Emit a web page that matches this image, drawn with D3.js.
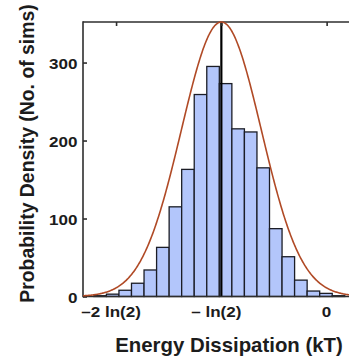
<!DOCTYPE html>
<html>
<head>
<meta charset="utf-8">
<script src="https://cdn.jsdelivr.net/npm/d3@7"></script>
<style>
  html, body { margin: 0; padding: 0; background: #ffffff; }
  svg { display: block; }
  text { font-family: "Liberation Sans", Arial, Helvetica, sans-serif; font-weight: bold; fill: #1c1c1c; }
</style>
</head>
<body>
<div id="chart"></div>
<script>
// Histogram of energy dissipated per simulation (units of kT)
const binStart = -1.5325;          // left edge of the first bin (kT)
const binWidth = 0.0826;           // bin width (kT)
const binCounts = [1, 3, 8, 17, 34, 63, 115, 163, 259, 295, 273, 215, 211, 165, 87, 51, 21, 7, 4, 1];

// Gaussian reference curve centred on -ln(2)
const fitMean = -Math.LN2;
const fitSigma = 0.2633;
const fitPeak = 352;

// Axes
const xDomain = [-1.604, 0.25];
const yDomain = [0, 352];
const xTickValues = [-2 * Math.LN2, -Math.LN2, 0];
const xTickLabels = ["\u20132 ln(2)", "\u2013 ln(2)", "0"];
const yTickValues = [0, 100, 200, 300];
const xTitle = "Energy Dissipation (kT)";
const yTitle = "Probability Density (No. of sims)";

const W = 349, H = 357;
const margin = { left: 83, top: 22 };
const plotW = 281.6, plotH = 274.5;

const svg = d3.select("#chart").append("svg")
  .attr("width", W).attr("height", H);

const x = d3.scaleLinear().domain(xDomain).range([margin.left, margin.left + plotW]);
const y = d3.scaleLinear().domain(yDomain).range([margin.top + plotH, margin.top]);

// Bars
const bins = binCounts.map((c, i) => ({ x0: binStart + i * binWidth, x1: binStart + (i + 1) * binWidth, count: c }));
svg.append("g").selectAll("rect").data(bins).join("rect")
  .attr("x", d => x(d.x0))
  .attr("y", d => y(d.count))
  .attr("width", d => x(d.x1) - x(d.x0))
  .attr("height", d => y(0) - y(d.count))
  .attr("fill", "#b3c6fb")
  .attr("stroke", "#1b1d26")
  .attr("stroke-width", 1.3);

// Vertical marker at -ln(2)
svg.append("line")
  .attr("x1", x(-Math.LN2)).attr("x2", x(-Math.LN2))
  .attr("y1", y(0)).attr("y2", y(yDomain[1]))
  .attr("stroke", "#000").attr("stroke-width", 2.2);

// Frame and ticks (box style, ticks pointing inward)
const frame = svg.append("g").attr("stroke", "#2e2e2e").attr("stroke-width", 1.6).attr("fill", "none");
frame.append("line").attr("x1", x(xDomain[0])).attr("x2", x(xDomain[1])).attr("y1", y(0)).attr("y2", y(0));
frame.append("line").attr("x1", x(xDomain[0])).attr("x2", x(xDomain[1])).attr("y1", y(yDomain[1])).attr("y2", y(yDomain[1]));
frame.append("line").attr("x1", x(xDomain[0])).attr("x2", x(xDomain[0])).attr("y1", y(0) + 0.8).attr("y2", y(yDomain[1]) - 0.8);

const topAxis = d3.axisTop(x).tickValues(xTickValues).tickSizeInner(-4).tickSizeOuter(0).tickFormat("");
svg.append("g").attr("transform", `translate(0,${y(yDomain[1])})`).call(topAxis)
  .call(g => g.select(".domain").remove())
  .call(g => g.selectAll("line").attr("stroke", "#2e2e2e").attr("stroke-width", 1.6));

const leftAxis = d3.axisLeft(y).tickValues(yTickValues).tickSizeInner(-4).tickSizeOuter(0).tickPadding(0);
svg.append("g").attr("transform", `translate(${x(xDomain[0])},0)`).call(leftAxis)
  .call(g => g.select(".domain").remove())
  .call(g => g.selectAll("line").attr("stroke", "#2e2e2e").attr("stroke-width", 1.6))
  .call(g => g.selectAll("text")
    .attr("x", -5.5 / 1.1).attr("dy", "0.36em")
    .attr("transform", "scale(1.1,1)")
    .style("font-size", "15.5px")
    .attr("fill", "#1c1c1c"));

const bottomAxis = d3.axisBottom(x).tickValues(xTickValues).tickSize(0).tickPadding(0)
  .tickFormat((d, i) => xTickLabels[i]);
svg.append("g").attr("transform", `translate(0,${y(0)})`).call(bottomAxis)
  .call(g => g.select(".domain").remove())
  .call(g => g.selectAll("text")
    .attr("dy", null)
    .attr("y", 20.5)
    .attr("x", (d, i) => (xTickLabels[i].startsWith("\u2013") ? -5.5 : -0.7) / 1.1)
    .attr("transform", "scale(1.1,1)")
    .style("font-size", "15.5px")
    .attr("fill", "#1c1c1c"));

// Reference curve
const curvePts = d3.range(0, 401).map(k => xDomain[0] + (xDomain[1] - xDomain[0]) * k / 400)
  .map(v => [v, fitPeak * Math.exp(-((v - fitMean) ** 2) / (2 * fitSigma * fitSigma))]);
svg.append("path")
  .datum(curvePts)
  .attr("d", d3.line().x(d => x(d[0])).y(d => y(d[1])))
  .attr("fill", "none")
  .attr("stroke", "#b04a26")
  .attr("stroke-width", 1.6);

// Axis titles
svg.append("text")
  .attr("x", 229).attr("y", 351.5)
  .attr("text-anchor", "middle")
  .style("font-size", "20.4px")
  .text(xTitle);

svg.append("text")
  .attr("transform", "translate(33.5,153.5) rotate(-90)")
  .attr("text-anchor", "middle")
  .style("font-size", "19.4px")
  .text(yTitle);
</script>
</body>
</html>
